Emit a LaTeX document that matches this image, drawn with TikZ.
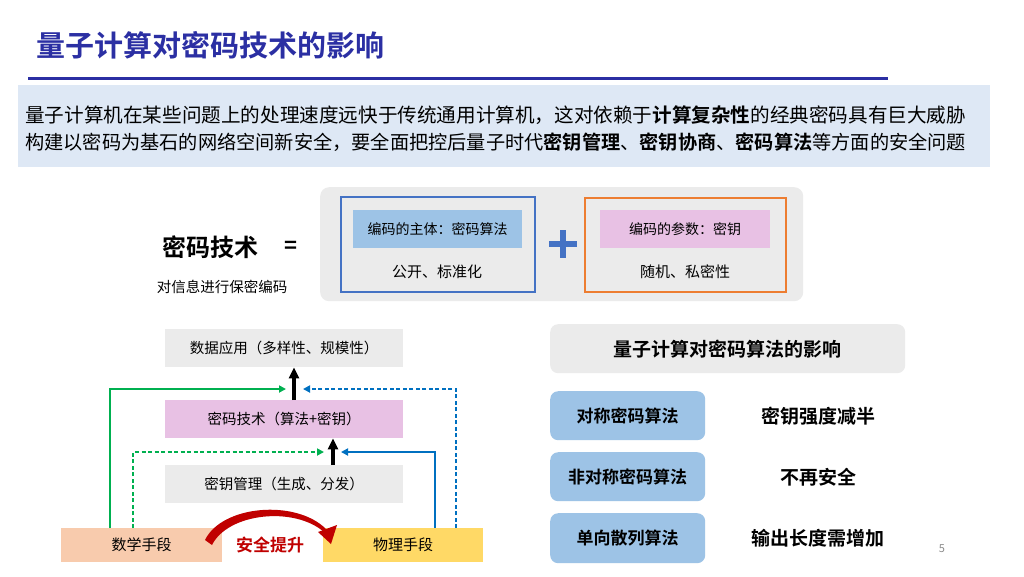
\documentclass[tikz,border=0pt]{standalone}
\usepackage{fontspec}
\setmainfont{Noto Sans CJK SC}[BoldFont={Noto Sans CJK SC Bold}]
\usetikzlibrary{arrows.meta}
\definecolor{titleblue}{HTML}{2B2FA3}
\definecolor{bandblue}{HTML}{DEE8F5}
\definecolor{boxgray}{HTML}{EBEBEB}
\definecolor{algoblue}{HTML}{9DC3E6}
\definecolor{edgeblue}{HTML}{4472C4}
\definecolor{edgeorange}{HTML}{ED7D31}
\definecolor{keypink}{HTML}{E8C1E4}
\definecolor{mathpeach}{HTML}{F8CBAD}
\definecolor{physyellow}{HTML}{FFD966}
\definecolor{lgreen}{HTML}{00B050}
\definecolor{lblue}{HTML}{0070C0}
\definecolor{darkred}{HTML}{C00000}
\newcommand{\fs}[1]{\fontsize{#1}{#1}\selectfont}
\tikzset{
  flatbox/.style={draw=none, inner sep=0pt, anchor=north west},
  lbl/.style={inner sep=0pt, text=black},
  flow/.style={line width=1.8pt, -{Triangle[length=7pt,width=7pt]}},
  dashflow/.style={flow, dash pattern=on 4pt off 2.5pt},
  bigup/.style={line width=3.6pt, -{Triangle[length=11pt,width=10pt]}},
}
\begin{document}
\begin{tikzpicture}[x=1pt,y=-1pt]
\useasboundingbox[fill=white] (0,0) rectangle (1024,576);
% title
\node[lbl, anchor=west, text=titleblue, font=\fs{29}\bfseries] (title) at (36,45) {量子计算对密码技术的影响};
\draw[titleblue, line width=3pt] (28,78) -- (888,78);
% band
\node[flatbox, fill=bandblue, minimum width=972pt, minimum height=82pt] (band) at (18,85) {};
\node[lbl, anchor=west, font=\fs{19.6}] (l1) at (25,115) {量子计算机在某些问题上的处理速度远快于传统通用计算机，这对依赖于{\bfseries 计算复杂性}的经典密码具有巨大威胁};
\node[lbl, anchor=west, font=\fs{19.2}] (l2) at (25,142) {构建以密码为基石的网络空间新安全，要全面把控后量子时代{\bfseries 密钥管理}、{\bfseries 密钥协商}、{\bfseries 密码算法}等方面的安全问题};
% equation part
\node[lbl, font=\fs{24}\bfseries] (mmjs) at (210,247) {密码技术};
\node[lbl, font=\fs{22}\bfseries] (eq) at (291,247) {=};
\node[lbl, font=\fs{14.5}] (sub) at (222,287) {对信息进行保密编码};
\node[flatbox, fill=boxgray, rounded corners=9pt, minimum width=483pt, minimum height=114pt] (graybg) at (320,187) {};
\node[flatbox, draw=edgeblue, line width=1.5pt, minimum width=194pt, minimum height=95pt] (algobox) at (340,196) {};
\node[flatbox, fill=algoblue, minimum width=169pt, minimum height=38pt] (algoin) at (353,210) {};
\node[lbl, font=\fs{14}] (algotxt) at (algoin.center) {编码的主体：密码算法};
\node[lbl, font=\fs{15}] (algosub) at (437,272) {公开、标准化};
\draw[edgeblue, line width=6pt] (549,244) -- (577,244) (563,230) -- (563,258);
\node[flatbox, draw=edgeorange, line width=1.5pt, minimum width=201pt, minimum height=94pt] (keybox) at (584,197) {};
\node[flatbox, fill=keypink, minimum width=170pt, minimum height=38pt] (keyin) at (600,210) {};
\node[lbl, font=\fs{14}] (keytxt) at (keyin.center) {编码的参数：密钥};
\node[lbl, font=\fs{15}] (keysub) at (685,272) {随机、私密性};
% left diagram
\node[flatbox, fill=boxgray, minimum width=238pt, minimum height=38pt] (app) at (165,329) {};
\node[lbl, font=\fs{14.5}] at (app.center) {数据应用（多样性、规模性）};
\node[flatbox, fill=keypink, minimum width=238pt, minimum height=38pt] (tech) at (165,400) {};
\node[lbl, font=\fs{14.5}] at (tech.center) {密码技术（算法+密钥）};
\node[flatbox, fill=boxgray, minimum width=238pt, minimum height=38pt] (mgmt) at (165,465) {};
\node[lbl, font=\fs{14.5}] at (mgmt.center) {密钥管理（生成、分发）};
\node[flatbox, fill=mathpeach, minimum width=161pt, minimum height=34pt] (math) at (61,528) {};
\node[lbl, font=\fs{15}] at (math.center) {数学手段};
\node[flatbox, fill=physyellow, minimum width=160pt, minimum height=34pt] (phys) at (323,528) {};
\node[lbl, font=\fs{15}] at (phys.center) {物理手段};
\node[lbl, font=\fs{17}\bfseries, text=darkred] (up) at (270,545) {安全提升};
% coordinates for connectors
\coordinate (g1a) at (110,528); \coordinate (g1b) at (110,389); \coordinate (g1c) at (286,389);
\coordinate (b1a) at (456,528); \coordinate (b1b) at (456,389); \coordinate (b1c) at (303,389);
\coordinate (g2a) at (133,528); \coordinate (g2b) at (133,452); \coordinate (g2c) at (324,452);
\coordinate (b2a) at (435,528); \coordinate (b2b) at (435,452); \coordinate (b2c) at (341,452);
\draw[bigup] (tech.north -| 294,0) -- (app.south -| 294,0);
\draw[bigup] (mgmt.north -| 333,0) -- (tech.south -| 333,0);
\draw[flow, lgreen] (g1a) -- (g1b) -- (g1c);
\draw[dashflow, lblue] (b1a) -- (b1b) -- (b1c);
\draw[dashflow, lgreen] (g2a) -- (g2b) -- (g2c);
\draw[flow, lblue] (b2a) -- (b2b) -- (b2c);
% red arc arrow (tapered band + head)
\fill[darkred] (205,540) .. controls (222,505) and (296,499) .. (326,529) -- (324,532) .. controls (294,506) and (228,513) .. (212,545) -- cycle;
\fill[darkred] (318,532) -- (331,544) -- (337,525) -- cycle;
% right part
\node[flatbox, fill=boxgray, rounded corners=8pt, minimum width=355pt, minimum height=49pt] (qhead) at (550,324) {};
\node[lbl, font=\fs{19}\bfseries] at (qhead.center) {量子计算对密码算法的影响};
\node[flatbox, fill=algoblue, rounded corners=8pt, minimum width=155pt, minimum height=49pt] (sym) at (550,391) {};
\node[lbl, font=\fs{17}\bfseries] at (sym.center) {对称密码算法};
\node[flatbox, fill=algoblue, rounded corners=8pt, minimum width=155pt, minimum height=49pt] (asym) at (550,452) {};
\node[lbl, font=\fs{17}\bfseries] at (asym.center) {非对称密码算法};
\node[flatbox, fill=algoblue, rounded corners=8pt, minimum width=155pt, minimum height=50pt] (hash) at (550,513) {};
\node[lbl, font=\fs{17}\bfseries] at (hash.center) {单向散列算法};
\node[lbl, font=\fs{19}\bfseries] (r1) at (818,416) {密钥强度减半};
\node[lbl, font=\fs{19}\bfseries] (r2) at (818,477) {不再安全};
\node[lbl, font=\fs{19}\bfseries] (r3) at (818,538) {输出长度需增加};
\node[lbl, font=\fs{11}, text=black!45] (pg) at (942,549) {5};
\end{tikzpicture}
\end{document}
